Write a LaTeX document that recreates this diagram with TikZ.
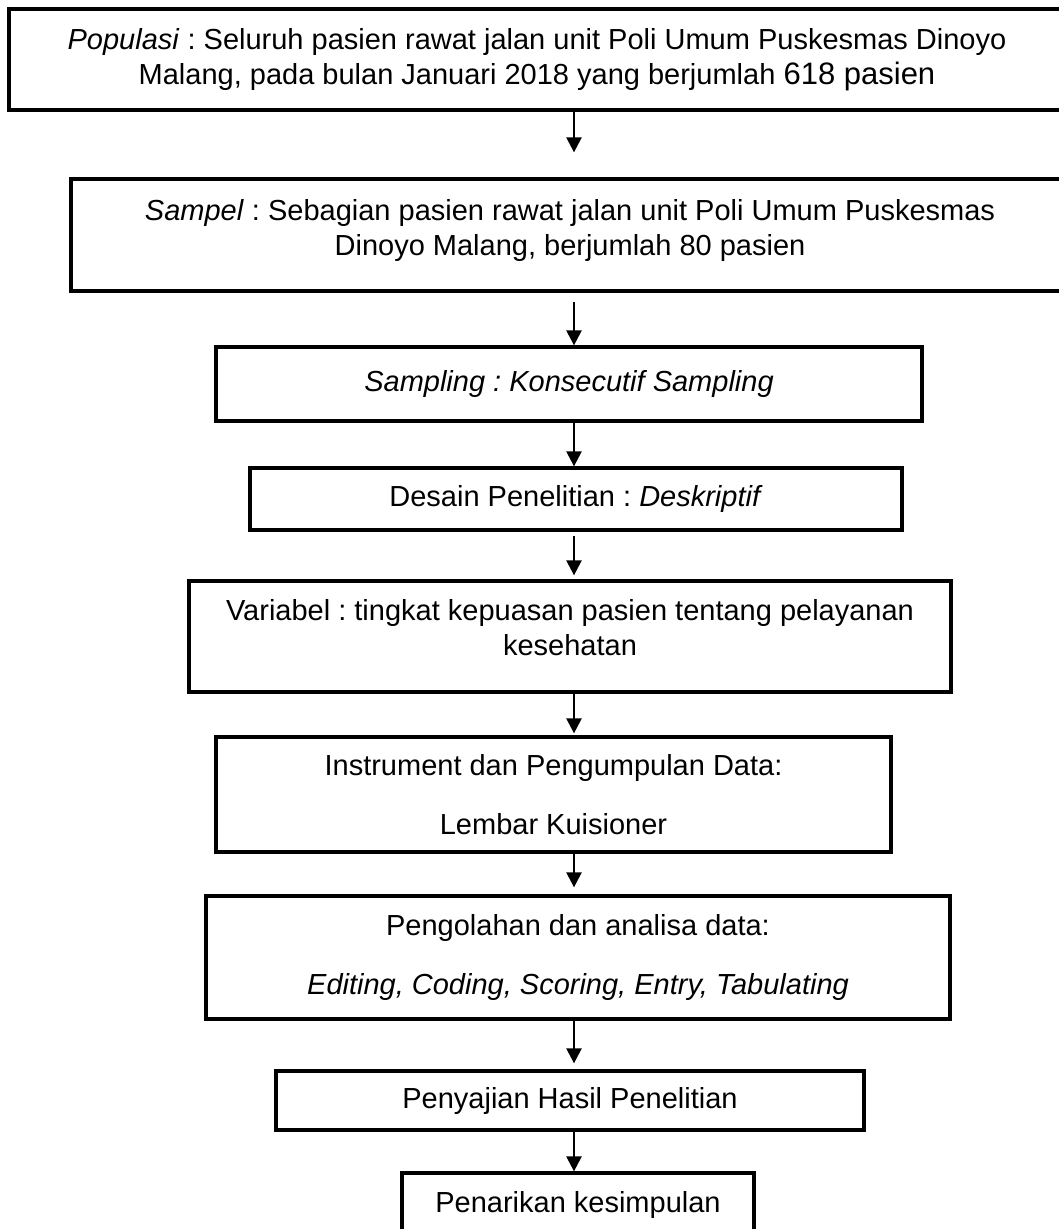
\documentclass[tikz,border=0pt]{standalone}
\usepackage{fontspec}
\setmainfont{Liberation Sans}
\usetikzlibrary{arrows.meta}
\frenchspacing

\newcommand{\lowpad}[1]{\rule[-#1]{0pt}{#1}}

\begin{document}
\begin{tikzpicture}[x=1pt, y=-1pt]
    \tikzstyle{box_style} = [draw, line width=3.3pt, align=center, inner sep=0pt, font=\fontsize{29}{35}\selectfont]
    \tikzstyle{arrow_style} = [-{Triangle[length=15pt, width=15pt]}, line width=2.4pt]

    \def\ax{574}

    \useasboundingbox (0,0) rectangle (1059,1229);
    \coordinate (spine) at (\ax,0);

    % boxes
    \node[box_style, minimum width=1056pt, minimum height=101pt] (populasi) at (537,59.5)
        {\textit{Populasi} : Seluruh pasien rawat jalan unit Poli Umum Puskesmas Dinoyo\\
         Malang, pada bulan Januari 2018 yang berjumlah {\fontsize{31}{35}\selectfont 618 pasien}};
    \node[box_style, minimum width=998pt, minimum height=112pt] (sampel) at (570,235)
        {\textit{Sampel} : Sebagian pasien rawat jalan unit Poli Umum Puskesmas\\
         Dinoyo Malang, berjumlah 80 pasien\lowpad{16pt}};
    \node[box_style, minimum width=706pt, minimum height=74pt] (sampling) at (569,384)
        {\textit{Sampling : Konsecutif Sampling}};
    \node[box_style, minimum width=652pt, minimum height=62pt] (desain) at (576,499)
        {Desain Penelitian : \textit{Deskriptif}};
    \node[box_style, minimum width=762pt, minimum height=111pt] (variabel) at (570,636.5)
        {Variabel : tingkat kepuasan pasien tentang pelayanan\\ kesehatan\lowpad{18pt}};
    \node[box_style, minimum width=675pt, minimum height=115pt] (instrumen) at (553.5,794.5)
        {Instrument dan Pengumpulan Data:\\[24pt] Lembar Kuisioner};
    \node[box_style, minimum width=744pt, minimum height=123pt] (pengolahan) at (578,957.5)
        {Pengolahan dan analisa data:\\[24pt] \textit{Editing, Coding, Scoring, Entry, Tabulating}};
    \node[box_style, minimum width=588pt, minimum height=59pt] (penyajian) at (570,1100.5)
        {Penyajian Hasil Penelitian};
    \node[box_style, minimum width=352pt, minimum height=64pt] (kesimpulan) at (578,1205)
        {Penarikan kesimpulan};

    % arrows
    \draw[arrow_style, shorten >=25pt] (populasi.south -| spine) -- (sampel.north -| spine);
    \draw[arrow_style, shorten <=9pt] (sampel.south -| spine) -- (sampling.north -| spine);
    \draw[arrow_style] (sampling.south -| spine) -- (desain.north -| spine);
    \draw[arrow_style, shorten <=4pt, shorten >=4pt] (desain.south -| spine) -- (variabel.north -| spine);
    \draw[arrow_style, shorten >=2pt] (variabel.south -| spine) -- (instrumen.north -| spine);
    \draw[arrow_style, shorten >=7pt] (instrumen.south -| spine) -- (pengolahan.north -| spine);
    \draw[arrow_style, shorten >=6pt] (pengolahan.south -| spine) -- (penyajian.north -| spine);
    \draw[arrow_style] (penyajian.south -| spine) -- (kesimpulan.north -| spine);
\end{tikzpicture}
\end{document}
